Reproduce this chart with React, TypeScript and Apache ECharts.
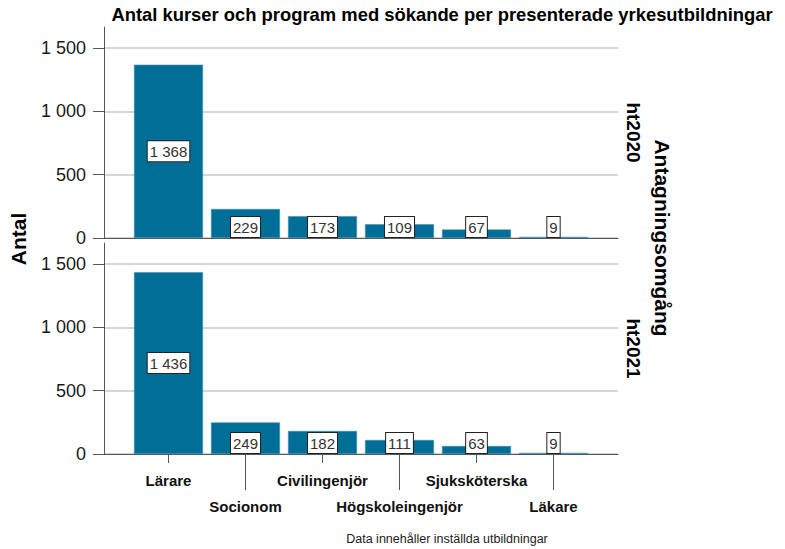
import React, { useEffect, useRef } from 'react';
import * as echarts from 'echarts';

const categories = ['Lärare', 'Socionom', 'Civilingenjör', 'Högskoleingenjör', 'Sjuksköterska', 'Läkare'];
const ht2020 = [1368, 229, 173, 109, 67, 9];
const ht2021 = [1436, 249, 182, 111, 63, 9];
const panelNames = ['ht2020', 'ht2021'];
const yMin = 0;
const yMaxTick = 1500;
const yInterval = 500;

const titleText = 'Antal kurser och program med sökande per presenterade yrkesutbildningar';
const yTitle = 'Antal';
const panelTitle = 'Antagningsomgång';
const footnote = 'Data innehåller inställda utbildningar';

const FONT = 'Arial, "Liberation Sans", sans-serif';
const BAR_COLOR = '#006e96';
const AXIS_COLOR = '#555555';

const fmt = (v: number) => {
  if (v >= 1000) {
    const th = Math.floor(v / 1000);
    const rest = String(v % 1000).padStart(3, '0');
    return th + ' ' + rest;
  }
  return String(v);
};

export default function App() {
  const ref = useRef<HTMLDivElement>(null);

  useEffect(() => {
    document.body.style.margin = '0';
    if (!ref.current) return;
    const chart = echarts.init(ref.current, null, { renderer: 'svg' });

    const plotLeft = 104;
    const plotWidth = 514;
    const barLeft = 130;
    const barAreaWidth = 462;
    const panelTopTick = [48, 264];
    const plotH = 190;
    const axisTop = [27, 243];
    const axisH = 211;
    const extMax = (yMaxTick * axisH) / plotH;

    const grids: any[] = [];
    const xAxes: any[] = [];
    const yAxes: any[] = [];
    const series: any[] = [];
    const datasets = [ht2020, ht2021];

    panelNames.forEach((_, p) => {
      const gW = grids.length;
      grids.push({ left: plotLeft, top: panelTopTick[p], width: plotWidth, height: plotH });
      const gB = grids.length;
      grids.push({ left: barLeft, top: axisTop[p], width: barAreaWidth, height: axisH });

      xAxes.push({
        gridIndex: gW,
        type: 'value',
        min: 0,
        max: 1,
        axisLine: { show: true, onZero: false, lineStyle: { color: AXIS_COLOR, width: 1 } },
        axisTick: { show: false },
        axisLabel: { show: false },
        splitLine: { show: false },
      });
      yAxes.push({
        gridIndex: gW,
        type: 'value',
        min: yMin,
        max: yMaxTick,
        interval: yInterval,
        axisLine: { show: false },
        axisTick: { show: true, length: 11, lineStyle: { color: AXIS_COLOR } },
        axisLabel: {
          show: true,
          margin: 18,
          formatter: (v: number) => fmt(v),
          fontFamily: FONT,
          fontSize: 18,
          color: '#1a1a1a',
        },
        splitLine: { show: true, lineStyle: { color: '#d6d6d6', width: 2 } },
      });

      const bx = xAxes.length;
      const isBottom = p === panelNames.length - 1;
      xAxes.push({
        gridIndex: gB,
        type: 'category',
        data: categories,
        axisLine: { show: false },
        axisTick: {
          show: isBottom,
          alignWithLabel: true,
          length: 9,
          interval: (i: number) => i % 2 === 0,
          lineStyle: { color: AXIS_COLOR },
        },
        axisLabel: {
          show: isBottom,
          interval: (i: number) => i % 2 === 0,
          margin: 17,
          lineHeight: 18,
          fontFamily: FONT,
          fontSize: 15,
          fontWeight: 'bold',
          color: '#111',
        },
      });
      if (isBottom) {
        xAxes.push({
          gridIndex: gB,
          type: 'category',
          position: 'bottom',
          data: categories,
          axisLine: { show: false },
          axisTick: {
            show: true,
            alignWithLabel: true,
            length: 36,
            interval: (i: number) => i % 2 === 1,
            lineStyle: { color: AXIS_COLOR },
          },
          axisLabel: {
            show: true,
            interval: (i: number) => i % 2 === 1,
            margin: 43,
            lineHeight: 18,
            fontFamily: FONT,
            fontSize: 15,
            fontWeight: 'bold',
            color: '#111',
          },
        });
      }
      const by = yAxes.length;
      yAxes.push({
        gridIndex: gB,
        type: 'value',
        min: yMin,
        max: extMax,
        offset: barLeft - plotLeft,
        axisLine: { show: true, lineStyle: { color: AXIS_COLOR, width: 1 } },
        axisTick: { show: false },
        axisLabel: { show: false },
        splitLine: { show: false },
      });

      series.push({
        type: 'bar',
        name: panelNames[p],
        xAxisIndex: bx,
        yAxisIndex: by,
        barWidth: 69,
        itemStyle: { color: BAR_COLOR, borderColor: '#3f8fb0', borderWidth: 0.6 },
        data: datasets[p].map((v) => ({
          value: v,
          label: {
            position: v >= yInterval ? 'inside' : 'insideBottom',
            distance: 1,
          },
        })),
        label: {
          show: true,
          formatter: (prm: any) => fmt(prm.value),
          fontFamily: FONT,
          fontSize: 15,
          color: '#333',
          backgroundColor: '#ffffff',
          borderColor: '#222',
          borderWidth: 1,
          padding: [3, 2, 2, 2],
        },
      });
    });

    const graphic: any[] = [
      {
        type: 'text',
        x: 442,
        y: 14,
        style: { text: titleText, font: `bold 18.4px ${FONT}`, fill: '#000', align: 'center', verticalAlign: 'middle' },
      },
      {
        type: 'text',
        x: 18,
        y: 239,
        rotation: Math.PI / 2,
        style: { text: yTitle, font: `bold 21px ${FONT}`, fill: '#000', align: 'center', verticalAlign: 'middle' },
      },
      {
        type: 'text',
        x: 662,
        y: 238,
        rotation: -Math.PI / 2,
        style: { text: panelTitle, font: `bold 21px ${FONT}`, fill: '#000', align: 'center', verticalAlign: 'middle' },
      },
      {
        type: 'text',
        x: 447,
        y: 539,
        style: { text: footnote, font: `12.5px ${FONT}`, fill: '#222', align: 'center', verticalAlign: 'middle' },
      },
    ];
    panelNames.forEach((name, p) => {
      graphic.push({
        type: 'text',
        x: 633,
        y: axisTop[p] + axisH / 2,
        rotation: -Math.PI / 2,
        style: { text: name, font: `bold 19px ${FONT}`, fill: '#000', align: 'center', verticalAlign: 'middle' },
      });
    });

    chart.setOption({
      animation: false,
      backgroundColor: '#ffffff',
      grid: grids,
      xAxis: xAxes,
      yAxis: yAxes,
      series,
      graphic,
    });

    return () => {
      chart.dispose();
    };
  }, []);

  return <div ref={ref} style={{ width: 785, height: 549 }} />;
}
